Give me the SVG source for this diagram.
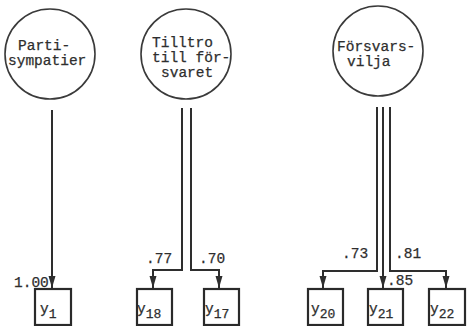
<svg xmlns="http://www.w3.org/2000/svg" width="467" height="326" viewBox="0 0 467 326">
<defs>
<style>
.lat{fill:none;stroke:#3a3a3a;stroke-width:1.6}
.obs{fill:none;stroke:#2a2a2a;stroke-width:2.2}
.ln{fill:none;stroke:#2e2e2e;stroke-width:2}
text{font-family:"Liberation Mono","Courier New",monospace;font-size:14.5px;fill:#2e2e2e;stroke:#2e2e2e;stroke-width:0.25}
.sub{font-size:13px}
</style>
<marker id="ah" viewBox="0 0 12 8" refX="12" refY="4" markerWidth="12" markerHeight="8" markerUnits="userSpaceOnUse" orient="auto">
<path d="M0,0.5 L12,4 L0,7.5 Z" fill="#2e2e2e"/>
</marker>
</defs>
<rect width="467" height="326" fill="#fff"/>
<g id="partisympatier">
<circle class="lat" cx="50" cy="54" r="45"/>
<text x="18" y="50">Parti-</text>
<text x="8" y="65">sympatier</text>
</g>
<g id="tilltro">
<circle class="lat" cx="186" cy="54" r="45"/>
<text x="152" y="47">Tilltro</text>
<text x="152" y="62">till för-</text>
<text x="161" y="77">svaret</text>
</g>
<g id="forsvarsvilja">
<circle class="lat" cx="378" cy="51" r="45"/>
<text x="337" y="51">Försvars-</text>
<text x="347" y="66">vilja</text>
</g>
<g id="y1">
<rect class="obs" x="35" y="289" width="36" height="36"/>
<text x="40" y="313">y<tspan class="sub" dy="5">1</tspan></text>
</g>
<g id="y18">
<rect class="obs" x="137" y="289" width="35" height="36"/>
<text x="137" y="313">y<tspan class="sub" dy="5">18</tspan></text>
</g>
<g id="y17">
<rect class="obs" x="204" y="289" width="35" height="36"/>
<text x="205" y="313">y<tspan class="sub" dy="5">17</tspan></text>
</g>
<g id="y20">
<rect class="obs" x="308" y="289" width="35" height="36"/>
<text x="311" y="313">y<tspan class="sub" dy="5">20</tspan></text>
</g>
<g id="y21">
<rect class="obs" x="368" y="289" width="35" height="36"/>
<text x="369" y="313">y<tspan class="sub" dy="5">21</tspan></text>
</g>
<g id="y22">
<rect class="obs" x="429" y="289" width="36" height="36"/>
<text x="430" y="313">y<tspan class="sub" dy="5">22</tspan></text>
</g>
<g id="connectors">
<path class="ln" d="M52,110 V288" marker-end="url(#ah)"/>
<path class="ln" d="M182,108 V270 H153 V288" marker-end="url(#ah)"/>
<path class="ln" d="M191,108 V270 H219 V288" marker-end="url(#ah)"/>
<path class="ln" d="M377,107 V271 H323 V288" marker-end="url(#ah)"/>
<path class="ln" d="M383,107 V288" marker-end="url(#ah)"/>
<path class="ln" d="M390,107 V271 H446 V288" marker-end="url(#ah)"/>
<text x="14" y="287">1.00</text>
<text x="146" y="263">.77</text>
<text x="199" y="263">.70</text>
<text x="342" y="258">.73</text>
<text x="395" y="258">.81</text>
<text x="387" y="285">.85</text>
</g>
</svg>
